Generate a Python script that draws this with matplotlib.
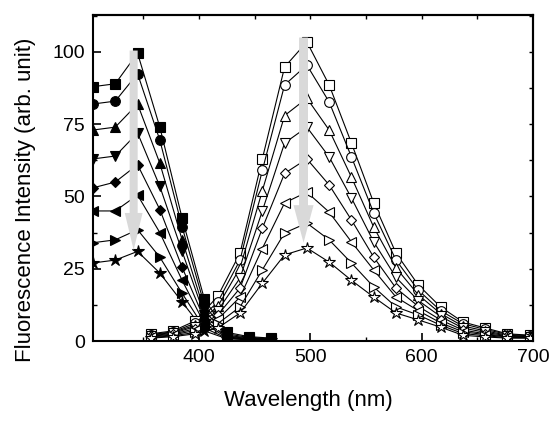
import matplotlib
matplotlib.use("Agg")
import matplotlib.pyplot as plt
from matplotlib.patches import FancyArrow
from matplotlib.ticker import MultipleLocator

plt.rcParams['font.family'] = ['Liberation Sans', 'DejaVu Sans']

# excitation spectra (filled markers)
ex_wl = [305, 325, 345, 365, 385, 405, 425, 445, 465]
ex_square = [88, 89, 99.6, 74, 42.5, 14.5, 3, 1.5, 1]
ex_circle = [82, 83, 92.5, 69.5, 39.5, 12.5, 2.5, 1.2, 0.8]
ex_up = [73, 74, 82, 61.5, 35, 10.5, 2, 1, 0.7]
ex_down = [63, 64, 72, 53.5, 31, 9, 1.7, 0.8, 0.5]
ex_diamond = [53, 55, 61, 45.5, 25.5, 7.5, 1.4, 0.7, 0.4]
ex_left = [45, 45, 50.5, 37.5, 21, 6, 1.2, 0.6, 0.3]
ex_right = [34, 35, 38.5, 29, 16.5, 4.5, 1, 0.5, 0.3]
ex_star = [27, 28, 31, 23.5, 13.5, 3.5, 0.8, 0.4, 0.2]

# emission spectra (open markers)
em_wl = [357, 377, 397, 417, 437, 457, 477, 497, 517, 537, 557, 577, 597, 617, 637, 657, 677, 697]
em_square = [2.5, 3.5, 7, 15.5, 30.4, 63, 94.8, 103.5, 88.6, 68.5, 47.8, 30.4, 19.4, 11.8, 6.6, 4.5, 2.5, 2]
em_circle = [2.2, 3.2, 6.2, 13.5, 28, 59, 88.6, 95.5, 82.7, 63.7, 44.3, 28, 17.6, 10.5, 6, 4, 2.3, 1.8]
em_up = [2, 3, 5.5, 12, 25.3, 52, 78, 84, 73, 56.7, 39.4, 25.3, 16, 9.5, 5.2, 3.5, 2, 1.6]
em_down = [1.8, 2.7, 5, 10.5, 21.8, 45, 68.5, 74, 63.7, 49.5, 34.3, 22, 14, 8.5, 4.5, 3, 1.8, 1.5]
em_diamond = [1.6, 2.4, 4.3, 9, 18.3, 39, 58, 63, 54, 41.9, 29, 18.3, 12, 7.3, 3.8, 2.5, 1.6, 1.3]
em_left = [1.4, 2.1, 3.7, 7.5, 15.2, 32, 47.8, 51.5, 44.6, 34.3, 24.6, 15.2, 10.5, 6.3, 3.2, 2.2, 1.4, 1.2]
em_right = [1.2, 1.8, 3, 6, 11.8, 24.6, 37.4, 40.8, 35, 27, 18.7, 11.8, 9, 5.5, 2.6, 1.8, 1.2, 1.1]
em_star = [1, 1.5, 2.5, 4.5, 9.7, 20, 29.8, 32.2, 27.3, 21, 15.2, 9.7, 7.3, 4.8, 2, 1.4, 1, 1]

markers = ['s', 'o', '^', 'v', 'D', '<', '>', '*']
msizes = [6.5, 7, 7.5, 7.5, 5.5, 7.5, 7.5, 9]
ex_series = [ex_square, ex_circle, ex_up, ex_down, ex_diamond, ex_left, ex_right, ex_star]
em_series = [em_square, em_circle, em_up, em_down, em_diamond, em_left, em_right, em_star]

fig = plt.figure(figsize=(5.53, 4.21), dpi=100)
ax = fig.add_axes([93/553, 1-341/421, 440/553, 326/421])

for ys, m, ms in zip(ex_series, markers, msizes):
    ax.plot(ex_wl, ys, color='black', lw=0.8, marker=m, ms=ms,
            mfc='black', mec='black', mew=0.8)
for ys, m, ms in zip(em_series, markers, msizes):
    ax.plot(em_wl, ys, color='black', lw=0.8, marker=m, ms=ms,
            mfc='white', mec='black', mew=0.8)

# gray arrows
ax.add_patch(FancyArrow(341.5, 100.5, 0, -69, width=7.2, head_width=16,
                        head_length=12.8, length_includes_head=True,
                        color='#d9d9d9', lw=0, zorder=10))
ax.add_patch(FancyArrow(494, 105, 0, -71, width=8, head_width=18,
                        head_length=13, length_includes_head=True,
                        color='#d9d9d9', lw=0, zorder=10))

ax.set_xlim(305, 700)
ax.set_ylim(0, 112.8)
ax.set_xticks([400, 500, 600, 700])
ax.xaxis.set_minor_locator(MultipleLocator(50))
ax.set_yticks([0, 25, 50, 75, 100])
ax.yaxis.set_minor_locator(MultipleLocator(12.5))
ax.tick_params(which='major', direction='in', length=6, width=1.2, labelsize=14, pad=6)
ax.tick_params(which='minor', direction='in', length=3, width=1.0)
ax.tick_params(which='both', top=False, right=False)

secx = ax.secondary_xaxis('top')
secx.set_xticks([350, 400, 450, 500, 550, 600, 650])
secx.tick_params(direction='in', length=3, width=1.0, labeltop=False)
secy = ax.secondary_yaxis('right')
secy.set_yticks([12.5, 25, 37.5, 50, 62.5, 75, 87.5, 100, 112.5])
secy.tick_params(direction='in', length=3, width=1.0, labelright=False)
for s in ax.spines.values():
    s.set_linewidth(1.5)
secx.spines['top'].set_linewidth(1.5)
secy.spines['right'].set_linewidth(1.5)

ax.set_xlabel('Wavelength (nm)', fontsize=16)
ax.set_ylabel('Fluorescence Intensity (arb. unit)', fontsize=16)
ax.xaxis.set_label_coords(0.489, -0.15)
ax.yaxis.set_label_coords(-0.13, 0.433)

fig.savefig('out.png', dpi=100)
